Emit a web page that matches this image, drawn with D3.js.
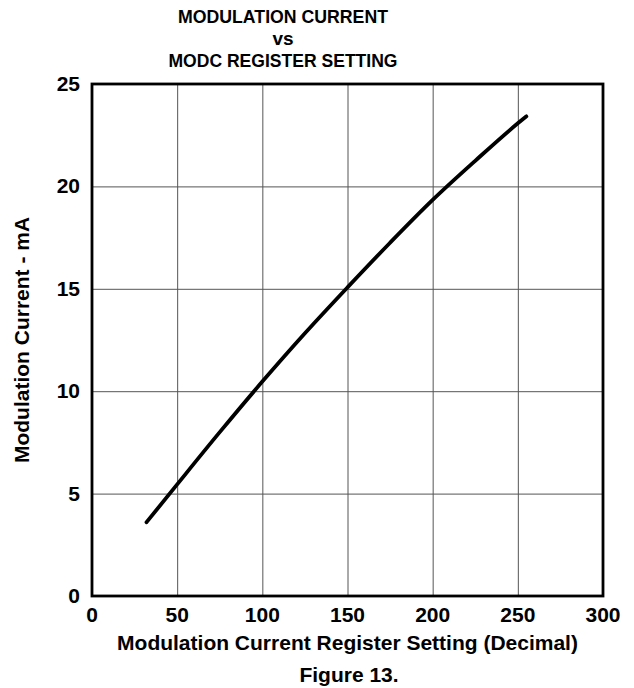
<!DOCTYPE html>
<html>
<head>
<meta charset="utf-8">
<script src="https://cdn.jsdelivr.net/npm/d3@7"></script>
<style>
  body { margin: 0; background: white; }
  text { font-family: "Liberation Sans", Arial, sans-serif; font-weight: bold; fill: black; }
  .grid line { stroke: #555; stroke-width: 1; }
  .grid path { display: none; }
</style>
</head>
<body>
<div id="chart"></div>
<script>
var svgWidth = 634;
var svgHeight = 688;

// curve
var regSetting = [32, 50, 75, 100, 125, 150, 175, 200, 225, 250, 255];
var modCurrent = [3.6, 5.45, 8.0, 10.47, 12.83, 15.07, 17.25, 19.34, 21.25, 23.08, 23.42];

var xTicks = [0, 50, 100, 150, 200, 250, 300];
var yTicks = [0, 5, 10, 15, 20, 25];

var titleLines = ["MODULATION CURRENT", "vs", "MODC REGISTER SETTING"];

var margin = { top: 84, right: 31, bottom: 92, left: 92 };
var width = svgWidth - margin.left - margin.right;
var height = svgHeight - margin.top - margin.bottom;

var svg = d3.select("#chart")
  .append("svg")
  .attr("width", svgWidth)
  .attr("height", svgHeight);

svg.append("rect")
  .attr("width", "100%")
  .attr("height", "100%")
  .attr("fill", "white");

var chartGroup = svg.append("g")
  .attr("transform", `translate(${margin.left}, ${margin.top})`);

// scales
var xScale = d3.scaleLinear().domain([0, 300]).range([0, width]);
var yScale = d3.scaleLinear().domain([0, 25]).range([height, 0]);

// grid lines
chartGroup.append("g")
  .attr("class", "grid")
  .attr("transform", `translate(0, ${height})`)
  .call(d3.axisBottom(xScale).tickValues(xTicks).tickSize(-height).tickFormat(""));

chartGroup.append("g")
  .attr("class", "grid")
  .call(d3.axisLeft(yScale).tickValues(yTicks).tickSize(-width).tickFormat(""));

// frame
chartGroup.append("rect")
  .attr("width", width)
  .attr("height", height)
  .attr("fill", "none")
  .attr("stroke", "black")
  .attr("stroke-width", 2.8);

// tick labels
chartGroup.selectAll(".xlab")
  .data(xTicks)
  .enter()
  .append("text")
  .attr("x", d => xScale(d))
  .attr("y", height + 26)
  .attr("text-anchor", "middle")
  .style("font-size", "21px")
  .text(d => d);

chartGroup.selectAll(".ylab")
  .data(yTicks)
  .enter()
  .append("text")
  .attr("x", -12)
  .attr("y", d => yScale(d))
  .attr("dy", "0.33em")
  .attr("text-anchor", "end")
  .style("font-size", "21px")
  .text(d => d);

// the curve
var line = d3.line()
  .x((d, i) => xScale(regSetting[i]))
  .y(d => yScale(d))
  .curve(d3.curveMonotoneX);

chartGroup.append("path")
  .datum(modCurrent)
  .attr("d", line)
  .attr("fill", "none")
  .attr("stroke", "black")
  .attr("stroke-width", 3.8)
  .attr("stroke-linecap", "round");

// axis labels
chartGroup.append("text")
  .attr("x", width / 2)
  .attr("y", height + 54)
  .attr("text-anchor", "middle")
  .style("font-size", "21px")
  .text("Modulation Current Register Setting (Decimal)");

chartGroup.append("text")
  .attr("transform", "rotate(-90)")
  .attr("x", -height / 2)
  .attr("y", -63)
  .attr("text-anchor", "middle")
  .style("font-size", "21px")
  .text("Modulation Current - mA");

svg.append("text")
  .attr("x", 349)
  .attr("y", 682)
  .attr("text-anchor", "middle")
  .style("font-size", "21px")
  .text("Figure 13.");

// title (narrow face in the original)
var titleY = [23, 45, 67];
var titleW = [210, null, 229];
titleLines.forEach(function(t, i) {
  var el = svg.append("text")
    .attr("x", 283)
    .attr("y", titleY[i])
    .attr("text-anchor", "middle")
    .style("font-size", "19px")
    .text(t);
  if (titleW[i]) {
    el.attr("textLength", titleW[i]).attr("lengthAdjust", "spacingAndGlyphs");
  }
});
</script>
</body>
</html>
